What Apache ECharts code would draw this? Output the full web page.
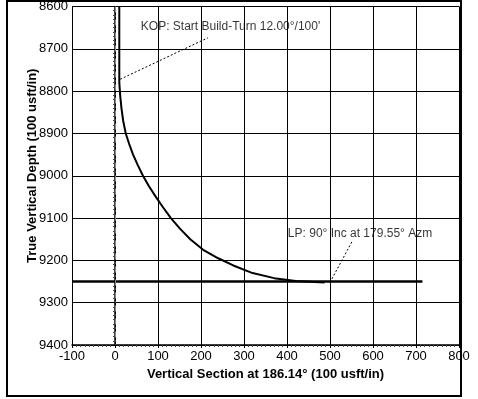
<!DOCTYPE html>
<html>
<head>
<meta charset="utf-8">
<script src="https://cdn.jsdelivr.net/npm/echarts@6/dist/echarts.min.js"></script>
<style>
  html, body { margin: 0; padding: 0; background: #fff; }
  #chart { width: 478px; height: 399px; }
</style>
</head>
<body>
<div id="chart"></div>
<script>
// well path (vertical section, TVD)
const pathVS = [10, 10, 12, 15, 19, 25, 33, 42, 53, 65, 79, 95, 112, 130, 151, 175, 205, 240, 275, 320, 370, 420, 487];
const pathTVD = [8600, 8780, 8810, 8840, 8870, 8900, 8925, 8950, 8975, 9000, 9025, 9050, 9075, 9100, 9125, 9150, 9175, 9195, 9212, 9230, 9242, 9249, 9252];
// target line
const targetVS = [-100, 715];
const targetTVD = [9250, 9250];
// annotation leaders
const kopLeaderVS = [12, 216];
const kopLeaderTVD = [8772, 8674];
const lpLeaderVS = [500, 551];
const lpLeaderTVD = [9252, 9156];
const notes = [
  { text: "KOP: Start Build-Turn 12.00°/100'", vs: 60, tvd: 8648 },
  { text: 'LP: 90° Inc at 179.55° Azm', vs: 402, tvd: 9137 }
];

const font = 'Liberation Sans, Arial, sans-serif';
const zip = (xs, ys) => xs.map((x, i) => [x, ys[i]]);

const chart = echarts.init(document.getElementById('chart'));
chart.setOption({
  animation: false,
  backgroundColor: '#fff',
  grid: { left: 72, right: 19, top: 2, bottom: 54 },
  xAxis: {
    type: 'value', min: -100, max: 800, interval: 100,
    name: 'Vertical Section at 186.14° (100 usft/in)',
    nameLocation: 'middle', nameGap: 23,
    nameTextStyle: { fontFamily: font, fontSize: 13, fontWeight: 'bold', color: '#000' },
    axisLine: { lineStyle: { color: '#000', width: 1.5 } },
    axisTick: { show: true, length: 3, lineStyle: { color: '#000' } },
    minorTick: { show: true, splitNumber: 10, length: 2, lineStyle: { color: '#444' } },
    axisLabel: { fontFamily: font, fontSize: 13, color: '#000', margin: 5 },
    splitLine: { show: true, lineStyle: { color: '#000', width: 1 } }
  },
  yAxis: {
    type: 'value', inverse: true, min: 8600, max: 9400, interval: 100,
    name: 'True Vertical Depth (100 usft/in)',
    nameLocation: 'middle', nameGap: 33, nameMoveOverlap: false,
    nameTextStyle: { fontFamily: font, fontSize: 13, fontWeight: 'bold', color: '#000', padding: [0, 0, 0, 20] },
    axisLine: { show: true, lineStyle: { color: '#000', width: 1.5 } },
    axisTick: { show: true, length: 3, lineStyle: { color: '#000' } },
    minorTick: { show: true, splitNumber: 10, length: 2, lineStyle: { color: '#444' } },
    axisLabel: { fontFamily: font, fontSize: 13, color: '#000', margin: 4, formatter: v => String(v) },
    splitLine: { show: true, lineStyle: { color: '#000', width: 1 } }
  },
  graphic: [{
    type: 'rect', shape: { x: 7, y: 1, width: 454, height: 395 },
    style: { fill: null, stroke: '#000', lineWidth: 2 }, silent: true
  }],
  series: [
    {
      type: 'line', data: zip(targetVS, targetTVD), symbol: 'none',
      lineStyle: { color: '#000', width: 2.5 },
      markLine: {
        silent: true, symbol: 'none', label: { show: false },
        lineStyle: { color: '#888', width: 1, type: [6, 3, 1, 3] },
        data: [{ xAxis: 0 }]
      }
    },
    {
      type: 'line', data: zip(pathVS, pathTVD), symbol: 'none',
      lineStyle: { color: '#000', width: 2 }
    },
    {
      type: 'line', data: zip(kopLeaderVS, kopLeaderTVD), symbol: 'none',
      lineStyle: { color: '#000', width: 1, type: [2, 2] }
    },
    {
      type: 'line', data: zip(lpLeaderVS, lpLeaderTVD), symbol: 'none',
      lineStyle: { color: '#000', width: 1, type: [2, 2] }
    },
    {
      type: 'scatter', symbolSize: 0,
      data: notes.map(n => ({ value: [n.vs, n.tvd], name: n.text })),
      label: {
        show: true, position: 'right', distance: 0,
        formatter: p => p.name,
        fontFamily: font, fontSize: 12, color: '#000'
      }
    }
  ]
});
</script>
</body>
</html>
